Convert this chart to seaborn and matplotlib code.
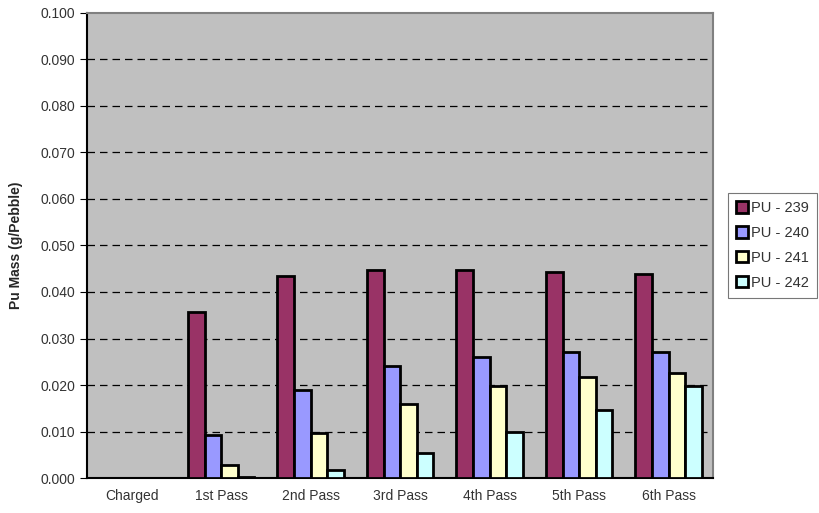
import pandas as pd
import numpy as np
import matplotlib
matplotlib.use("Agg")
import matplotlib.pyplot as plt
import seaborn as sns

# dados
passes = ['Charged', '1st Pass', '2nd Pass', '3rd Pass', '4th Pass', '5th Pass', '6th Pass']
isotopos = ['PU - 239', 'PU - 240', 'PU - 241', 'PU - 242']
pu239 = [0.0, 0.0357, 0.0434, 0.0447, 0.0447, 0.0443, 0.0439]
pu240 = [0.0, 0.0093, 0.0189, 0.0241, 0.0261, 0.0271, 0.0271]
pu241 = [0.0, 0.0028, 0.0097, 0.0159, 0.0198, 0.0217, 0.0225]
pu242 = [0.0, 0.0003, 0.0017, 0.0054, 0.0099, 0.0146, 0.0197]
cores = ['#993366', '#9999FF', '#FFFFCC', '#CCFFFF']

df = pd.DataFrame({'Passe': passes * 4,
                   'Isotopo': np.repeat(isotopos, len(passes)),
                   'Massa': pu239 + pu240 + pu241 + pu242})

sns.set_style('white')
plt.rcParams['font.family'] = ['Liberation Sans', 'DejaVu Sans']

fig, ax = plt.subplots(figsize=(8.19, 5.13), dpi=100)
fig.subplots_adjust(left=0.106, right=0.871, top=0.975, bottom=0.068)
ax.set_facecolor('#C0C0C0')

sns.barplot(data=df, x='Passe', y='Massa', hue='Isotopo', palette=cores, saturation=1,
            width=0.74, edgecolor='black', linewidth=2, ax=ax, zorder=3)

# grade tracejada
ax.set_ylim(0, 0.1)
ax.set_yticks(np.arange(0, 0.1001, 0.01))
ax.set_yticklabels(['%.3f' % v for v in np.arange(0, 0.1001, 0.01)], fontsize=10, color='#333333')
for v in np.arange(0.01, 0.0951, 0.01):
    ax.axhline(v, color='black', ls=(0, (6, 4)), lw=0.9, zorder=1)

ax.set_xlim(-0.5, len(passes) - 0.5)
ax.tick_params(axis='x', length=0, labelsize=10, labelcolor='#333333', pad=8)
ax.set_xticks(np.arange(-0.5, len(passes)), minor=True)
ax.tick_params(axis='x', which='minor', length=5, direction='out', color='black')
ax.tick_params(axis='y', length=5, direction='out', color='black', left=True)
ax.set_xlabel('')
ax.set_ylabel('Pu Mass (g/Pebble)', fontsize=10, fontweight='bold', labelpad=12)

for lado in ['left', 'bottom']:
    ax.spines[lado].set_color('black')
    ax.spines[lado].set_linewidth(1.5)
for lado in ['top', 'right']:
    ax.spines[lado].set_color('#808080')
    ax.spines[lado].set_linewidth(1.5)

leg = ax.legend(loc='center left', bbox_to_anchor=(1.012, 0.5), frameon=True,
                fancybox=False, edgecolor='#555555', fontsize=10.5, handlelength=0.8,
                handleheight=0.8, handletextpad=0.2, labelspacing=0.75, borderpad=0.55)
leg.get_frame().set_linewidth(0.8)
for t in leg.get_texts():
    t.set_color('#333333')

plt.savefig('out.png', dpi=100)
